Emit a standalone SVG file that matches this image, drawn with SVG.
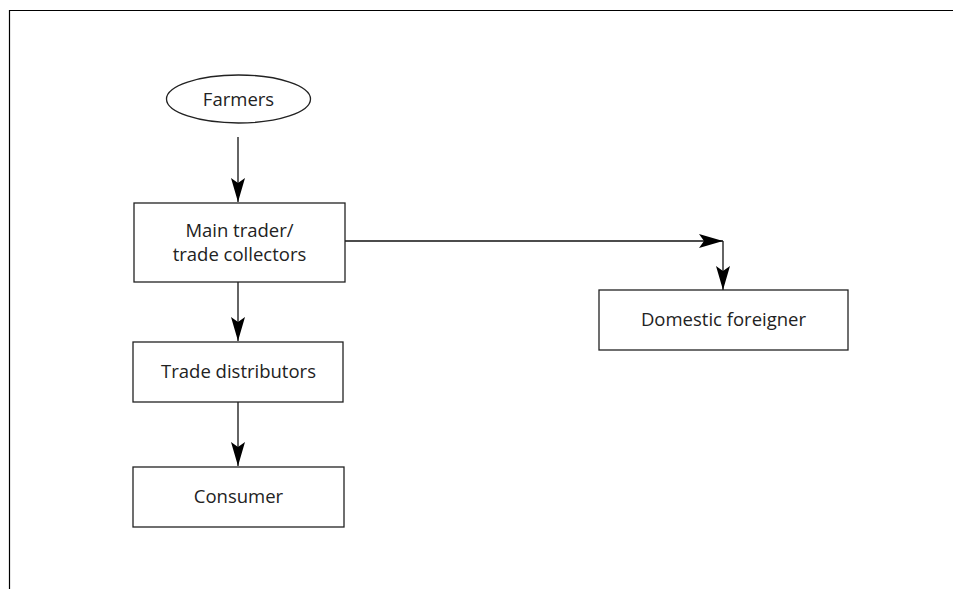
<svg xmlns="http://www.w3.org/2000/svg" width="953" height="589" viewBox="0 0 953 589">
<style>
.n{fill:#fff;stroke:#222;stroke-width:1.3}
.t{font-family:"Open Sans","Liberation Sans",sans-serif;font-size:18.5px;fill:#222;text-anchor:middle}
.c{fill:none;stroke:#111;stroke-width:1.3}
</style>
<defs>
<marker id="ah" markerWidth="24" markerHeight="14" refX="24" refY="7" orient="auto" markerUnits="userSpaceOnUse">
<path d="M0,0 L24,7 L0,14 L5,7 Z" fill="#000"/>
</marker>
</defs>
<rect width="953" height="589" fill="#fff"/>
<path d="M9.5,589 V10.5 H953" fill="none" stroke="#000" stroke-width="1.2"/>
<g id="connectors">
<path class="c" d="M238,137 V202" marker-end="url(#ah)"/>
<path class="c" d="M238,282 V341" marker-end="url(#ah)"/>
<path class="c" d="M238,402 V466" marker-end="url(#ah)"/>
<path class="c" d="M345,241 H723" marker-end="url(#ah)"/>
<path class="c" d="M723,241 V290" marker-end="url(#ah)"/>
</g>
<g id="farmers">
<ellipse class="n" cx="238.5" cy="99" rx="72" ry="24"/>
<text class="t" x="238.5" y="105.5">Farmers</text>
</g>
<g id="main-trader">
<rect class="n" x="134" y="203" width="211" height="79"/>
<text class="t" x="239.5" y="237">Main trader/</text>
<text class="t" x="239.5" y="261">trade collectors</text>
</g>
<g id="trade-distributors">
<rect class="n" x="133" y="342" width="210" height="60"/>
<text class="t" x="238.5" y="378">Trade distributors</text>
</g>
<g id="consumer">
<rect class="n" x="133" y="467" width="211" height="60"/>
<text class="t" x="238.5" y="503">Consumer</text>
</g>
<g id="domestic-foreigner">
<rect class="n" x="599" y="290" width="249" height="60"/>
<text class="t" x="723.5" y="326">Domestic foreigner</text>
</g>
</svg>
